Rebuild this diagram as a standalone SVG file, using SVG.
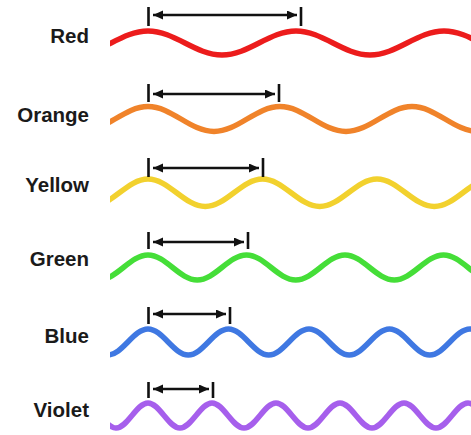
<svg xmlns="http://www.w3.org/2000/svg" width="471" height="435" viewBox="0 0 471 435">
  <style>
    .lbl { font-family: "Liberation Sans", Arial, sans-serif; font-weight: bold; font-size: 20.5px; fill: #1a1a1a; text-anchor: end; }
    .wave { fill: none; stroke-width: 5.5; stroke-linejoin: round; }
    .tick { stroke: #111; stroke-width: 2.6; }
    .arr { stroke: #111; stroke-width: 2.6; marker-start: url(#ah); marker-end: url(#ah); }
  </style>
  <defs>
    <marker id="ah" markerUnits="userSpaceOnUse" markerWidth="11" markerHeight="10" refX="10" refY="4.5" orient="auto-start-reverse">
      <path d="M0,0 L10,4.5 L0,9 z" fill="#111"/>
    </marker>
    <clipPath id="wclip"><rect x="110" y="0" width="361" height="435"/></clipPath>
  </defs>
  <rect width="471" height="435" fill="#ffffff"/>

  <g id="red">
    <text class="lbl" x="89" y="43">Red</text>
    <path class="wave" stroke="#ec1c1c" clip-path="url(#wclip)" d="M0,31 C26.9,31 47.1,55 74,55 S121.1,31 148,31 S195.1,55 222,55 S269.1,31 296,31 S343.1,55 370,55 S417.1,31 444,31 S491.1,55 518,55"/>
  </g>
  <g id="orange">
    <text class="lbl" x="89" y="122">Orange</text>
    <path class="wave" stroke="#f0832a" clip-path="url(#wclip)" d="M16,106.5 C40,106.5 58,131.5 82,131.5 S124,106.5 148,106.5 S190,131.5 214,131.5 S256,106.5 280,106.5 S322,131.5 346,131.5 S388,106.5 412,106.5 S454,131.5 478,131.5"/>
  </g>
  <g id="yellow">
    <text class="lbl" x="89" y="192">Yellow</text>
    <path class="wave" stroke="#f2d12e" clip-path="url(#wclip)" d="M33.5,179 C54.3,179 70,206.5 90.75,206.5 S127.2,179 148,179 S184.45,206.5 205.25,206.5 S241.7,179 262.5,179 S298.95,206.5 319.75,206.5 S356.2,179 377,179 S413.45,206.5 434.25,206.5 S470.7,179 491.5,179"/>
  </g>
  <g id="green">
    <text class="lbl" x="89" y="266">Green</text>
    <path class="wave" stroke="#45de38" clip-path="url(#wclip)" d="M49.5,255 C67.4,255 80.85,280 98.75,280 S130.1,255 148,255 S179.35,280 197.25,280 S228.6,255 246.5,255 S277.85,280 295.75,280 S327.1,255 345,255 S376.35,280 394.25,280 S425.6,255 443.5,255 S474.85,280 492.75,280"/>
  </g>
  <g id="blue">
    <text class="lbl" x="89" y="343">Blue</text>
    <path class="wave" stroke="#3f78e2" clip-path="url(#wclip)" d="M67.5,329 C82.13,329 93.12,355 107.75,355 S133.37,329 148,329 S173.62,355 188.25,355 S213.87,329 228.5,329 S254.12,355 268.75,355 S294.37,329 309,329 S334.62,355 349.25,355 S374.87,329 389.5,329 S415.12,355 429.75,355 S455.37,329 470,329 S495.62,355 510.25,355"/>
  </g>
  <g id="violet">
    <text class="lbl" x="89" y="417">Violet</text>
    <path class="wave" stroke="#a65fec" clip-path="url(#wclip)" d="M84,403 C95.63,403 104.37,428 116,428 S136.37,403 148,403 S168.37,428 180,428 S200.37,403 212,403 S232.37,428 244,428 S264.37,403 276,403 S296.37,428 308,428 S328.37,403 340,403 S360.37,428 372,428 S392.37,403 404,403 S424.37,428 436,428 S456.37,403 468,403 S488.37,428 500,428"/>
  </g>

  <g id="connectors">
    <line class="tick" x1="148.5" y1="7" x2="148.5" y2="26"/>
    <line class="tick" x1="301" y1="7" x2="301" y2="26"/>
    <line class="arr" x1="153" y1="15" x2="297" y2="15"/>

    <line class="tick" x1="148.5" y1="84" x2="148.5" y2="102"/>
    <line class="tick" x1="279" y1="84" x2="279" y2="102"/>
    <line class="arr" x1="153" y1="94" x2="275" y2="94"/>

    <line class="tick" x1="148.5" y1="158" x2="148.5" y2="177"/>
    <line class="tick" x1="263" y1="158" x2="263" y2="177"/>
    <line class="arr" x1="153" y1="168" x2="259" y2="168"/>

    <line class="tick" x1="148.5" y1="232" x2="148.5" y2="249"/>
    <line class="tick" x1="248" y1="232" x2="248" y2="249"/>
    <line class="arr" x1="153" y1="242" x2="244" y2="242"/>

    <line class="tick" x1="148.5" y1="307" x2="148.5" y2="324"/>
    <line class="tick" x1="230" y1="307" x2="230" y2="324"/>
    <line class="arr" x1="153" y1="314" x2="226" y2="314"/>

    <line class="tick" x1="148.5" y1="382" x2="148.5" y2="398"/>
    <line class="tick" x1="213" y1="382" x2="213" y2="398"/>
    <line class="arr" x1="153" y1="389" x2="209" y2="389"/>
  </g>
</svg>
